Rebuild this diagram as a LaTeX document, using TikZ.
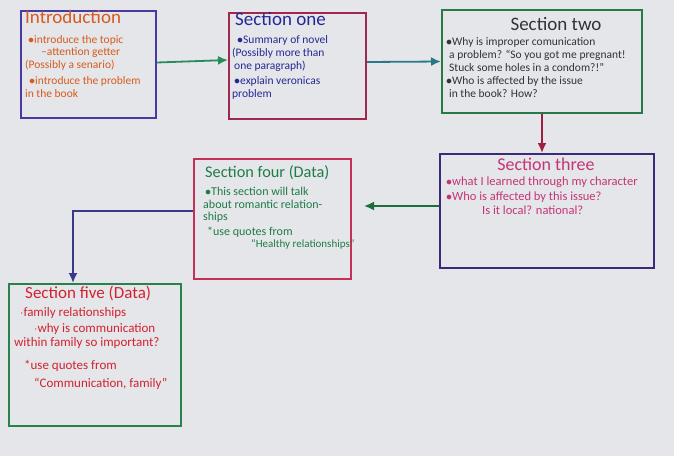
\documentclass[tikz,border=0pt]{standalone}
\usepackage{fontspec}
\setmainfont{Carlito}
\usepackage{xcolor}
\usetikzlibrary{arrows.meta,positioning,calc}

\definecolor{paper}{RGB}{229,230,233}
\definecolor{introline}{RGB}{72,58,160}
\definecolor{introink}{RGB}{214,90,30}
\definecolor{oneline}{RGB}{160,40,80}
\definecolor{oneink}{RGB}{36,40,150}
\definecolor{twoline}{RGB}{40,120,72}
\definecolor{twoink}{RGB}{50,50,55}
\definecolor{threeline}{RGB}{58,42,120}
\definecolor{threeink}{RGB}{196,52,118}
\definecolor{fourline}{RGB}{196,48,86}
\definecolor{fourink}{RGB}{30,124,70}
\definecolor{fiveline}{RGB}{40,130,76}
\definecolor{fiveink}{RGB}{210,34,48}
\definecolor{arrowgreen}{RGB}{40,140,90}
\definecolor{arrowteal}{RGB}{40,120,140}
\definecolor{arrowred}{RGB}{160,30,64}
\definecolor{arrowdark}{RGB}{30,110,60}
\definecolor{arrowblue}{RGB}{58,56,140}

\begin{document}
\begin{tikzpicture}[x=1pt, y=-1pt,
  frame/.style={draw, line width=2pt, anchor=north west, inner sep=0pt},
  head/.style={anchor=north west, inner sep=0pt, font=\fontsize{19}{22}\selectfont},
  notes/.style={anchor=north west, align=left, inner sep=0pt, font=\fontsize{11.5}{13}\selectfont},
  link/.style={line width=1.8pt, -{Latex[length=10pt,width=9pt]}}]
  \useasboundingbox[fill=paper] (0,0) rectangle (674,456);

  % Box 1: Introduction
  \node[frame, draw=introline, minimum width=135pt, minimum height=107pt] (intro) at (20,10) {};
  \node[head, text=introink] (introhead) at (25,10) {Introduction};
  \node[notes, text=introink, font=\fontsize{11.5}{12.5}\selectfont] (introtxt) at (25,35) {%
    \hspace{3pt}$\bullet$introduce the topic\\
    \hspace{16pt}--attention getter\\
    (Possibly a senario)\\[4pt]
    \hspace{4pt}$\bullet$introduce the problem\\
    in the book};

  % Box 2: Section one
  \node[frame, draw=oneline, minimum width=137pt, minimum height=106pt] (one) at (228,12) {};
  \node[head, text=oneink] (onehead) at (235,12) {Section one};
  \node[notes, text=oneink] (onetxt) at (232,35) {%
    \hspace{5pt}$\bullet$Summary of novel\\
    (Possibly more than\\
    \hspace{2pt}one paragraph)\\[2pt]
    \hspace{2pt}$\bullet$explain veronicas\\
    problem};

  % Box 3: Section two
  \node[frame, draw=twoline, minimum width=200pt, minimum height=103pt] (two) at (441,9) {};
  \node[head, text=twoink, anchor=north] (twohead) at (556,17) {Section two};
  \node[notes, text=twoink] (twotxt) at (446,37) {%
    $\bullet$Why is improper comunication\\
    \hspace{3pt}a problem? ``So you got me pregnant!\\
    \hspace{3pt}Stuck some holes in a condom?!''\\
    $\bullet$Who is affected by the issue\\
    \hspace{3pt}in the book? How?};

  % Box 4: Section three
  \node[frame, draw=threeline, minimum width=214pt, minimum height=114pt] (three) at (439,153) {};
  \node[head, text=threeink, anchor=north, font=\fontsize{18}{20}\selectfont] (threehead) at (546,158) {Section three};
  \node[notes, text=threeink, font=\fontsize{12.5}{14.5}\selectfont] (threetxt) at (446,177) {%
    $\bullet$what I learned through my character\\
    $\bullet$Who is affected by this issue?\\
    \hspace{36pt}Is it local? national?};

  % Box 5: Section four (Data)
  \node[frame, draw=fourline, minimum width=157pt, minimum height=120pt] (four) at (193,158) {};
  \node[head, text=fourink, font=\fontsize{16.3}{18}\selectfont] (fourhead) at (205,165) {Section four (Data)};
  \node[notes, text=fourink, font=\fontsize{12}{12.5}\selectfont] (fourtxt) at (203,187) {%
    \hspace{2pt}$\bullet$This section will talk\\
    about romantic relation-\\
    ships\\[2pt]
    \hspace{4pt}*use quotes from\\
    \hspace{48pt}{\fontsize{11}{12}\selectfont``Healthy relationships''}};

  % Box 6: Section five (Data)
  \node[frame, draw=fiveline, minimum width=172pt, minimum height=142pt] (five) at (8,283) {};
  \node[head, text=fiveink, font=\fontsize{17}{19}\selectfont] (fivehead) at (25,286) {Section five (Data)};
  \node[notes, text=fiveink, font=\fontsize{13}{13.5}\selectfont] (fivetxt) at (14,307) {%
    \hspace{6pt}$\cdot$family relationships\\[3pt]
    \hspace{20pt}$\cdot$why is communication\\
    within family so important?\\[10pt]
    \hspace{10pt}*use quotes from\\[4pt]
    \hspace{20pt}``Communication, family''};

  % connectors
  \draw[link, arrowgreen] ([yshift=2pt]intro.east) -- ([yshift=6pt]one.west);
  \draw[link, arrowteal] ([yshift=4pt]one.east) -- (two.west);
  \draw[link, arrowred] (two.south) -- (two.south |- three.north);
  \draw[link, arrowdark, shorten >=12pt] ([yshift=5pt]three.west) -- ([yshift=5pt]three.west -| four.east);
  \draw[link, arrowblue] ([yshift=8pt]four.west) -| ([xshift=-22pt]five.north);
\end{tikzpicture}
\end{document}
